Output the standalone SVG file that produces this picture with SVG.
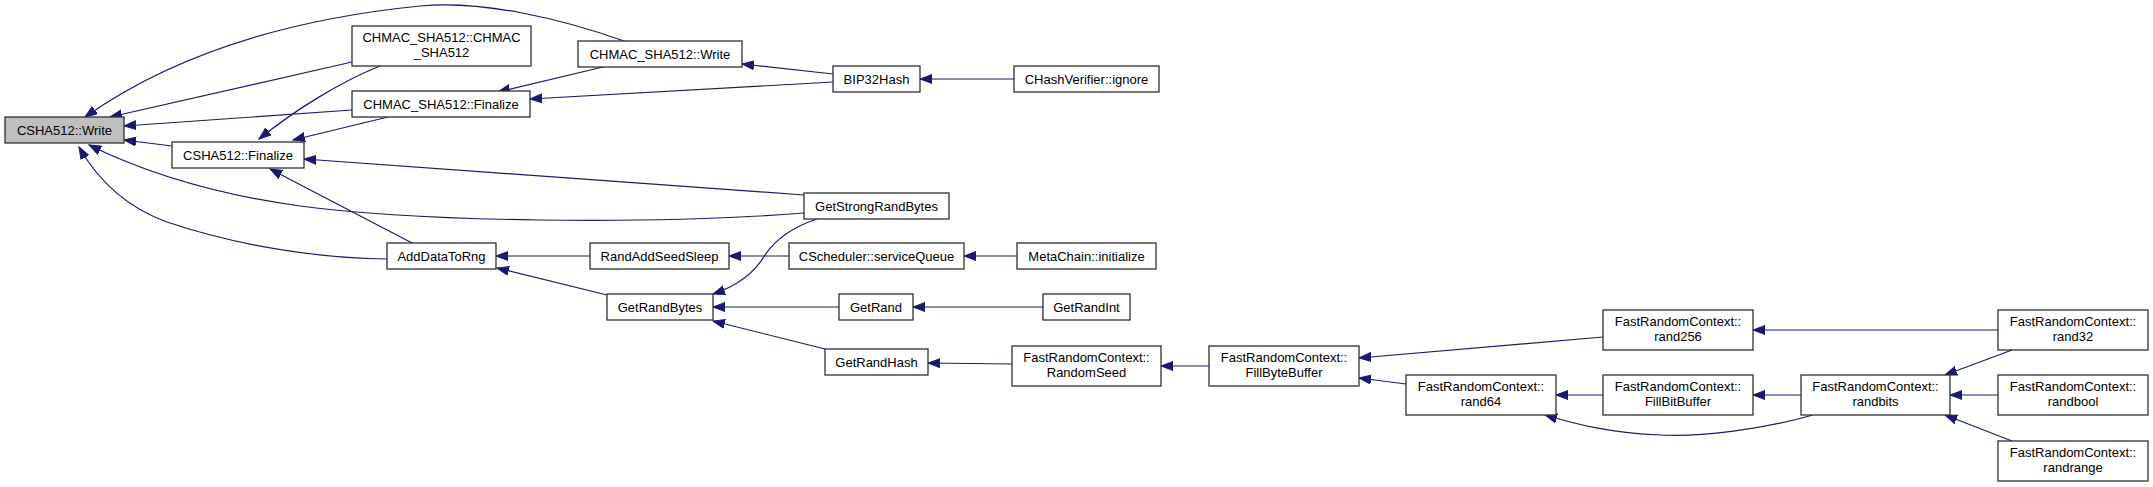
<svg xmlns="http://www.w3.org/2000/svg" width="2153" height="487" viewBox="0 0 2153 487">
<style>
.n rect{fill:#ffffff;stroke:#303030;stroke-width:1.3}
.n.root rect{fill:#bfbfbf}
.n text{font-family:"Liberation Sans",Arial,sans-serif;font-size:13px;fill:#000;text-anchor:middle}
#edges path{fill:none;stroke:#191970;stroke-width:1.2;marker-end:url(#ah)}
</style>
<defs>
<marker id="ah" markerWidth="14" markerHeight="11" refX="12" refY="5" orient="auto" markerUnits="userSpaceOnUse">
<path d="M0,0.5 L12,5 L0,9.5 z" fill="#191970" stroke="#191970" stroke-width="1"/>
</marker>
</defs>
<rect width="2153" height="487" fill="#ffffff"/>
<g id="edges">
<path d="M627,42 C560,18 480,0 420,6 C300,18 180,50 85,117"/>
<path d="M352,62 L110,117"/>
<path d="M352,110 L124,126"/>
<path d="M172,146 L124,140"/>
<path d="M804,213 C650,225 420,222 300,206 C220,195 150,175 89,145"/>
<path d="M387,259 C300,258 220,240 167,222 C120,205 95,175 79,147"/>
<path d="M380,66 C340,82 295,110 259,139"/>
<path d="M388,117 L293,140"/>
<path d="M804,195 L304,159"/>
<path d="M414,244 L270,169"/>
<path d="M603,67 L498,92"/>
<path d="M833,74 L742,64"/>
<path d="M833,82 L530,99"/>
<path d="M1014,79 L920,79"/>
<path d="M590,256 L496,256"/>
<path d="M607,295 L497,268"/>
<path d="M817,219 C790,228 775,240 765,255 C755,272 740,285 713,294"/>
<path d="M789,256 L729,256"/>
<path d="M1017,256 L964,256"/>
<path d="M839,307 L713,307"/>
<path d="M825,349 L713,321"/>
<path d="M1043,307 L913,307"/>
<path d="M1012,364 L928,363"/>
<path d="M1209,366 L1161,366"/>
<path d="M1603,337 L1359,358"/>
<path d="M1406,384 L1359,378"/>
<path d="M1603,395 L1556,395"/>
<path d="M1813,415 C1760,430 1700,437 1660,435 C1610,433 1575,424 1545,415"/>
<path d="M1801,395 L1753,395"/>
<path d="M1998,330 L1753,330"/>
<path d="M2012,350 L1945,375"/>
<path d="M1998,395 L1950,395"/>
<path d="M2012,441 L1945,415"/>
</g>
<g id="n0" class="n root"><rect x="5" y="117" width="119" height="26"/><text x="64.5" y="134.5">CSHA512::Write</text></g>
<g id="n1" class="n"><rect x="172" y="142" width="132" height="26"/><text x="238" y="159.5">CSHA512::Finalize</text></g>
<g id="n2" class="n"><rect x="352" y="26" width="179" height="40"/><text x="441.5" y="41.5">CHMAC_SHA512::CHMAC</text><text x="441.5" y="56.5">_SHA512</text></g>
<g id="n3" class="n"><rect x="352" y="91" width="178" height="26"/><text x="441" y="108.5">CHMAC_SHA512::Finalize</text></g>
<g id="n4" class="n"><rect x="578" y="41" width="164" height="26"/><text x="660" y="58.5">CHMAC_SHA512::Write</text></g>
<g id="n5" class="n"><rect x="833" y="66" width="87" height="26"/><text x="876.5" y="83.5">BIP32Hash</text></g>
<g id="n6" class="n"><rect x="1014" y="66" width="145" height="26"/><text x="1086.5" y="83.5">CHashVerifier::ignore</text></g>
<g id="n7" class="n"><rect x="804" y="193" width="145" height="26"/><text x="876.5" y="210.5">GetStrongRandBytes</text></g>
<g id="n8" class="n"><rect x="387" y="243" width="109" height="26"/><text x="441.5" y="260.5">AddDataToRng</text></g>
<g id="n9" class="n"><rect x="590" y="243" width="139" height="26"/><text x="659.5" y="260.5">RandAddSeedSleep</text></g>
<g id="n10" class="n"><rect x="789" y="243" width="175" height="26"/><text x="876.5" y="260.5">CScheduler::serviceQueue</text></g>
<g id="n11" class="n"><rect x="1017" y="243" width="139" height="26"/><text x="1086.5" y="260.5">MetaChain::initialize</text></g>
<g id="n12" class="n"><rect x="607" y="294" width="106" height="26"/><text x="660" y="311.5">GetRandBytes</text></g>
<g id="n13" class="n"><rect x="839" y="294" width="74" height="26"/><text x="876" y="311.5">GetRand</text></g>
<g id="n14" class="n"><rect x="1043" y="294" width="87" height="26"/><text x="1086.5" y="311.5">GetRandInt</text></g>
<g id="n15" class="n"><rect x="825" y="349" width="103" height="26"/><text x="876.5" y="366.5">GetRandHash</text></g>
<g id="n16" class="n"><rect x="1012" y="346" width="149" height="40"/><text x="1086.5" y="361.5">FastRandomContext::</text><text x="1086.5" y="376.5">RandomSeed</text></g>
<g id="n17" class="n"><rect x="1209" y="346" width="150" height="40"/><text x="1284" y="361.5">FastRandomContext::</text><text x="1284" y="376.5">FillByteBuffer</text></g>
<g id="n18" class="n"><rect x="1603" y="310" width="150" height="40"/><text x="1678" y="325.5">FastRandomContext::</text><text x="1678" y="340.5">rand256</text></g>
<g id="n19" class="n"><rect x="1406" y="375" width="150" height="40"/><text x="1481" y="390.5">FastRandomContext::</text><text x="1481" y="405.5">rand64</text></g>
<g id="n20" class="n"><rect x="1603" y="375" width="150" height="40"/><text x="1678" y="390.5">FastRandomContext::</text><text x="1678" y="405.5">FillBitBuffer</text></g>
<g id="n21" class="n"><rect x="1801" y="375" width="149" height="40"/><text x="1875.5" y="390.5">FastRandomContext::</text><text x="1875.5" y="405.5">randbits</text></g>
<g id="n22" class="n"><rect x="1998" y="310" width="150" height="40"/><text x="2073" y="325.5">FastRandomContext::</text><text x="2073" y="340.5">rand32</text></g>
<g id="n23" class="n"><rect x="1998" y="375" width="150" height="40"/><text x="2073" y="390.5">FastRandomContext::</text><text x="2073" y="405.5">randbool</text></g>
<g id="n24" class="n"><rect x="1998" y="441" width="150" height="40"/><text x="2073" y="456.5">FastRandomContext::</text><text x="2073" y="471.5">randrange</text></g>
</svg>
